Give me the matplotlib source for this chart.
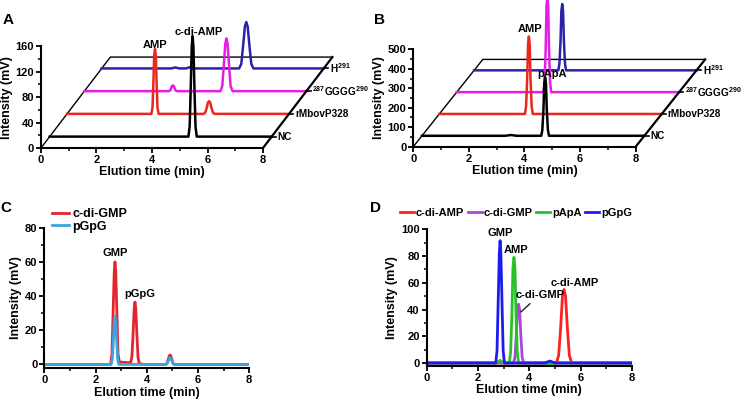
import numpy as np
import matplotlib
matplotlib.use('Agg')
import matplotlib.pyplot as plt

plt.rcParams['font.family'] = 'Liberation Sans'
plt.rcParams['font.weight'] = 'bold'
plt.rcParams['axes.labelweight'] = 'bold'
plt.rcParams['mathtext.fontset'] = 'custom'
plt.rcParams['mathtext.rm'] = 'Liberation Sans:bold'
plt.rcParams['mathtext.bf'] = 'Liberation Sans:bold'

# ==========================================
# DATA (elution time in min, intensity in mV)
# ==========================================
# Panel A - c-di-AMP substrate
A_labels = ['NC', 'rMbovP328', r'$^{\mathbf{287}}$GGGG$^{\mathbf{290}}$', r'H$^{\mathbf{291}}$']
A_nc_t = [0, 5.00, 5.045, 5.08, 5.12, 5.15, 5.18, 5.22, 5.255, 5.30, 8]
A_nc_v = [0, 0, 16, 71, 142, 158, 142, 71, 16, 0, 0]
A_wt_t = [0, 3.04, 3.08, 3.11, 3.14, 3.17, 3.20, 3.23, 3.26, 3.30,
          4.92, 4.98, 5.03, 5.08, 5.12, 5.16, 5.21, 5.26, 5.32, 8]
A_wt_v = [0, 0, 10, 46, 92, 102, 92, 46, 10, 0,
          0, 2, 9, 18, 20, 18, 9, 2, 0, 0]
A_gg_t = [0, 3.04, 3.09, 3.12, 3.16, 3.19, 3.22, 3.26, 3.29, 3.34,
          4.90, 4.97, 5.02, 5.08, 5.12, 5.16, 5.22, 5.27, 5.34, 8]
A_gg_v = [0, 0, 1, 4, 8, 9, 8, 4, 1, 0,
          0, 8, 37, 75, 83, 75, 37, 8, 0, 0]
A_h_t = [0, 2.5, 2.65, 2.8, 3.05, 3.17, 3.3,
         4.95, 5.03, 5.09, 5.16, 5.21, 5.26, 5.33, 5.39, 5.47, 8]
A_h_v = [0, 0, 1.5, 0, 0, 2, 0,
         0, 7, 33, 66, 73, 66, 33, 7, 0, 0]

# Panel B - pApA substrate
B_nc_t = [0, 3.0, 3.2, 3.4, 4.29, 4.33, 4.37, 4.40, 4.43, 4.46, 4.49, 4.53, 4.57, 8]
B_nc_v = [0, 0, 4, 0, 0, 30, 135, 270, 300, 270, 135, 30, 0, 0]
B_wt_t = [0, 3.08, 3.12, 3.16, 3.19, 3.22, 3.25, 3.28, 3.32, 3.36, 8]
B_wt_v = [0, 0, 40, 179, 358, 398, 358, 179, 40, 0, 0]
B_gg_t = [0, 3.12, 3.16, 3.20, 3.23, 3.26, 3.29, 3.32, 3.36, 3.40, 8]
B_gg_v = [0, 0, 49, 220, 441, 490, 441, 220, 49, 0, 0]
B_h_t = [0, 3.03, 3.07, 3.11, 3.14, 3.17, 3.20, 3.23, 3.27, 3.31, 8]
B_h_v = [0, 0, 34, 153, 306, 340, 306, 153, 34, 0, 0]

# Panel C
C_cdg_t = [0, 2.59, 2.64, 2.68, 2.73, 2.76, 2.79, 2.84, 2.88, 2.93, 3.1,
           3.37, 3.42, 3.46, 3.51, 3.54, 3.57, 3.62, 3.66, 3.71, 3.9,
           4.74, 4.79, 4.83, 4.88, 4.91, 4.94, 4.99, 5.03, 5.08, 8]
C_cdg_v = [0, 0, 6, 27, 54, 60, 54, 27, 6, 1.5, 1.2,
           1, 4.5, 16, 33, 36.5, 33, 16, 4, 0.5, 0,
           0, 0.6, 2.5, 5, 5.5, 5, 2.5, 0.6, 0, 0]
C_pgpg_t = [0, 2.61, 2.655, 2.69, 2.73, 2.76, 2.79, 2.83, 2.865, 2.91,
            4.74, 4.79, 4.83, 4.88, 4.91, 4.94, 4.99, 5.03, 5.08, 8]
C_pgpg_v = [0, 0, 3, 12.6, 25, 28, 25, 12.6, 3, 0,
            0, 0.4, 1.8, 3.6, 4, 3.6, 1.8, 0.4, 0, 0]

# Panel D - standards
D_cda_t = [0, 5.05, 5.14, 5.215, 5.29, 5.35, 5.41, 5.485, 5.56, 5.65, 8]
D_cda_v = [0, 0, 5.5, 25, 50, 55, 50, 25, 5.5, 0, 0]
D_cdg_t = [0, 3.38, 3.44, 3.49, 3.54, 3.58, 3.62, 3.67, 3.72, 3.78, 8]
D_cdg_v = [0, 0, 4.4, 20, 40, 44, 40, 20, 4.4, 0, 0]
D_papa_t = [0, 2.7, 2.86, 3.0, 3.22, 3.27, 3.32, 3.36, 3.40, 3.44, 3.48, 3.53, 3.58,
            4.6, 4.8, 5.0, 8]
D_papa_v = [0, 0, 2, 0, 0, 8, 36, 71, 79, 71, 36, 8, 0,
            0, -0.8, 0, 0]
D_pgpg_t = [0, 2.69, 2.74, 2.78, 2.83, 2.86, 2.89, 2.94, 2.98, 3.03, 4.6, 4.8, 5.0, 8]
D_pgpg_v = [0, 0, 9, 41, 82, 91.5, 82, 41, 9, 0, 0, 1.5, 0, 0]

COL3D = ['black', '#e8281e', '#e41ee4', '#2a22a8']
DEPTHS = [0.125, 0.375, 0.625, 0.875]


def style_axes(ax):
    for s in ['top', 'right']:
        ax.spines[s].set_visible(False)
    for s in ['left', 'bottom']:
        ax.spines[s].set_linewidth(1.5)
    ax.tick_params(which='major', length=3.5, width=1.3, labelsize=8, pad=1.5)
    ax.tick_params(which='minor', length=2, width=1.1)
    ax.set_xlim(0, 8)
    ax.set_xticks([0, 2, 4, 6, 8])
    ax.set_xticks([1, 3, 5, 7], minor=True)
    ax.set_xlabel('Elution time (min)', fontsize=9, labelpad=1)
    ax.set_ylabel('Intensity (mV)', fontsize=9, labelpad=2)


def pseudo3d(ax, traces, dx, dy):
    # floor of the stacked plot
    ax.plot([0, dx, 8 + dx], [0, dy, dy], color='black', lw=1.0, clip_on=False)
    ax.plot([8, 8 + dx], [0, dy], color='black', lw=1.6, clip_on=False, zorder=5)
    # back to front so the front traces sit on top
    for i in range(3, -1, -1):
        t, v = traces[i]
        d = DEPTHS[i]
        ax.plot(np.array(t) + d * dx, np.array(v) + d * dy, color=COL3D[i], lw=1.8,
                clip_on=False, zorder=3 + (4 - i) * 0.1)
        x0, y0 = 8 + d * dx, d * dy
        ax.plot([x0, x0 + 0.15], [y0, y0], color='black', lw=1.2, clip_on=False, zorder=6)
        ax.text(x0 + 0.22, y0, A_labels[i], fontsize=7.2, va='center', ha='left')


fig = plt.figure(figsize=(7.44, 4.03), dpi=100)

# ---------------- A ----------------
axA = fig.add_axes([0.0551, 0.6328, 0.2984, 0.2524])
style_axes(axA)
axA.set_ylim(0, 160)
axA.set_yticks([0, 40, 80, 120, 160])
axA.set_yticks([20, 60, 100, 140], minor=True)
pseudo3d(axA, [(A_nc_t, A_nc_v), (A_wt_t, A_wt_v), (A_gg_t, A_gg_v), (A_h_t, A_h_v)], 2.5, 143)
axA.text(4.11, 162, 'AMP', fontsize=8, ha='center', va='center')
axA.text(5.69, 182, 'c-di-AMP', fontsize=8, ha='center', va='center')
fig.text(0.003, 0.95, 'A', fontsize=11, fontweight='bold', va='center')

# ---------------- B ----------------
axB = fig.add_axes([0.5555, 0.636, 0.2989, 0.2417])
style_axes(axB)
axB.set_ylim(0, 500)
axB.set_yticks([0, 100, 200, 300, 400, 500])
axB.set_yticks([50, 150, 250, 350, 450], minor=True)
pseudo3d(axB, [(B_nc_t, B_nc_v), (B_wt_t, B_wt_v), (B_gg_t, B_gg_v), (B_h_t, B_h_v)], 2.5, 448)
axB.text(4.2, 603, 'AMP', fontsize=8, ha='center', va='center')
axB.text(4.99, 373, 'pApA', fontsize=8, ha='center', va='center', zorder=10)
fig.text(0.503, 0.95, 'B', fontsize=11, fontweight='bold', va='center')

# ---------------- C ----------------
axC = fig.add_axes([0.0595, 0.086, 0.2755, 0.349])
style_axes(axC)
axC.set_ylim(-2.3, 80)
axC.set_yticks([0, 20, 40, 60, 80])
axC.set_yticks([10, 30, 50, 70], minor=True)
axC.plot(C_cdg_t, C_cdg_v, color='#e32530', lw=2.0, label='c-di-GMP')
axC.plot(C_pgpg_t, C_pgpg_v, color='#3ba3dd', lw=2.0, label='pGpG')
axC.text(2.76, 62.5, 'GMP', fontsize=8, ha='center', va='bottom')
axC.text(3.74, 38, 'pGpG', fontsize=8, ha='center', va='bottom')
axC.legend(loc='upper left', bbox_to_anchor=(0.04, 1.14), frameon=False, fontsize=9,
           handlelength=1.3, handletextpad=0.3, labelspacing=0.05, borderpad=0, borderaxespad=0)
fig.text(0.001, 0.485, 'C', fontsize=11, fontweight='bold', va='center')

# ---------------- D ----------------
axD = fig.add_axes([0.5735, 0.0926, 0.276, 0.3385])
style_axes(axD)
axD.set_ylim(-2, 100)
axD.set_yticks([0, 20, 40, 60, 80, 100])
axD.set_yticks([10, 30, 50, 70, 90], minor=True)
axD.plot(D_cda_t, D_cda_v, color='#ff2020', lw=2.0, label='c-di-AMP')
axD.plot(D_cdg_t, D_cdg_v, color='#a946d8', lw=2.0, label='c-di-GMP')
axD.plot(D_papa_t, D_papa_v, color='#27c227', lw=2.0, label='pApA')
axD.plot(D_pgpg_t, D_pgpg_v, color='#1c1cf0', lw=2.0, label='pGpG')
axD.text(2.86, 97, 'GMP', fontsize=8, ha='center', va='center')
axD.text(3.48, 84.5, 'AMP', fontsize=8, ha='center', va='center')
axD.text(5.78, 60, 'c-di-AMP', fontsize=8, ha='center', va='center')
axD.text(4.41, 51, 'c-di-GMP', fontsize=8, ha='center', va='center')
axD.plot([4.02, 3.68], [44.3, 38.3], color='#222222', lw=1.0)
axD.legend(loc='center', bbox_to_anchor=(0.435, 1.12), frameon=False, fontsize=8, ncol=4,
           handlelength=1.3, handletextpad=0.15, columnspacing=0.3, borderpad=0, borderaxespad=0)
fig.text(0.497, 0.485, 'D', fontsize=11, fontweight='bold', va='center')

fig.savefig('out.png', dpi=100)
